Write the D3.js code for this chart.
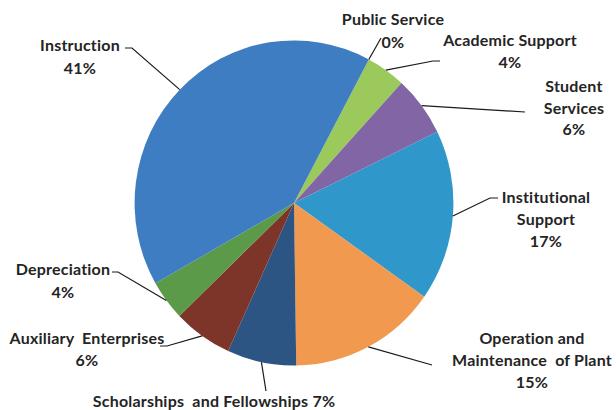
<!DOCTYPE html>
<html>
<head>
<meta charset="utf-8">
<script src="https://cdn.jsdelivr.net/npm/d3@7"></script>
<style>
  body { margin: 0; background: #fff; }
  text { font-family: Lato, "Open Sans", sans-serif; font-weight: bold; font-size: 16px; letter-spacing: 0.2px; fill: #242424; }
</style>
</head>
<body>
<div class="chart"></div>
<script>
// slices clockwise from the first slice angle
const categories = ["Public Service", "Academic Support", "Student Services", "Institutional Support",
                    "Operation and Maintenance of Plant", "Scholarships and Fellowships", "Auxiliary Enterprises",
                    "Depreciation", "Instruction"];
const values = [0, 4, 6, 17, 15, 7, 6, 4, 41];
const colors = ["#9bc95b", "#9bc95b", "#8165a5", "#2f97c9", "#f0994f", "#2d5584", "#7d3529", "#5b9a48", "#3e7dc1"];

// label text lines
const labelLines = [
  ["Public Service", "0%"],
  ["Academic Support", "4%"],
  ["Student", "Services", "6%"],
  ["Institutional", "Support", "17%"],
  ["Operation and", "Maintenance  of Plant", "15%"],
  ["Scholarships  and Fellowships 7%"],
  ["Auxiliary  Enterprises", "6%"],
  ["Depreciation", "4%"],
  ["Instruction", "41%"]
];

const width = 616, height = 410;
const cx = 294, cy = 203, R = 161;
const sx = 0.99, sy = 1.01;
const firstAngle = 28;

// label placement (text centre, first line) and leader elbows
const labelPos = [
  {x: 393, y: 18, dy: 23, leader: [[381, 38]]},
  {x: 510, y: 39, dy: 22, leader: [[433, 61], [440, 61]]},
  {x: 574, y: 85, dy: 21.5, leader: [[525, 112]]},
  {x: 546, y: 196, dy: 22, leader: [[490, 198], [498, 198]]},
  {x: 532, y: 337, dy: 22, leader: [[432, 365]]},
  {x: 214, y: 400, dy: 0, leader: [[266, 391]]},
  {x: 87, y: 337, dy: 22, leader: [[167, 346], [160, 346]]},
  {x: 63, y: 268, dy: 23, leader: [[118, 272], [112, 272]]},
  {x: 80, y: 44, dy: 23, leader: [[132, 48], [125, 48]]}
];

const data = categories.map((c, i) => ({name: c, value: values[i], color: colors[i], lines: labelLines[i], pos: labelPos[i]}));

const svg = d3.select(".chart").append("svg")
  .attr("width", width)
  .attr("height", height);

const pie = d3.pie()
  .sort(null)
  .value(d => d.value)
  .startAngle(firstAngle * Math.PI / 180)
  .endAngle((firstAngle + 360) * Math.PI / 180);

const arcs = pie(data);

const arc = d3.arc().innerRadius(0).outerRadius(R);
const edgeArc = d3.arc().innerRadius(R).outerRadius(R);

const g = svg.append("g")
  .attr("transform", `translate(${cx},${cy}) scale(${sx},${sy})`);

g.selectAll("path")
  .data(arcs)
  .enter()
  .append("path")
  .attr("d", arc)
  .attr("fill", d => d.data.color);

// leader lines: from pie edge at the slice middle to the label
const line = d3.line();
svg.selectAll(".leader")
  .data(arcs)
  .enter()
  .append("path")
  .attr("class", "leader")
  .attr("fill", "none")
  .attr("stroke", "#1a1a1a")
  .attr("stroke-width", 1.2)
  .attr("d", d => {
    const c = edgeArc.centroid(d);
    const start = [cx + c[0] * sx, cy + c[1] * sy];
    return line([start].concat(d.data.pos.leader));
  });

const labels = svg.selectAll(".label")
  .data(data)
  .enter()
  .append("text")
  .attr("class", "label")
  .attr("text-anchor", "middle")
  .attr("dominant-baseline", "central");

labels.selectAll("tspan")
  .data(d => d.lines.map((t, i) => ({t: t, x: d.pos.x, y: d.pos.y + i * d.pos.dy})))
  .enter()
  .append("tspan")
  .attr("x", d => d.x)
  .attr("y", d => d.y)
  .style("white-space", "pre")
  .text(d => d.t);
</script>
</body>
</html>
